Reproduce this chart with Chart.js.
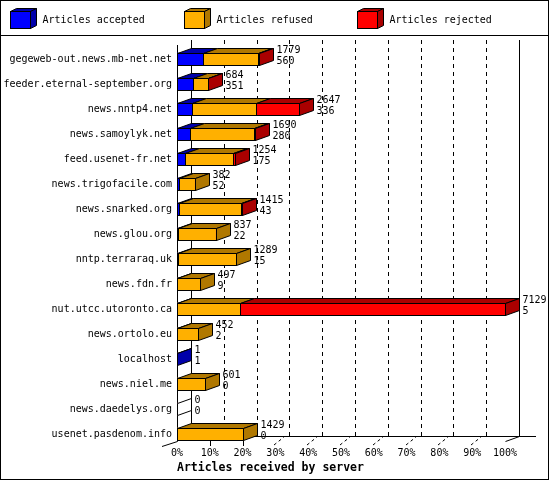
<!DOCTYPE html>
<html>
<head>
<meta charset="utf-8">
<script src="https://cdn.jsdelivr.net/npm/chart.js@4.4.1/dist/chart.umd.min.js"></script>
<style>
  html, body { margin: 0; padding: 0; background: #fff; }
  canvas { display: block; }
</style>
</head>
<body>
<canvas id="chart" width="550" height="480"></canvas>
<script>
// servers, in the order shown top to bottom
const servers = [
  'gegeweb-out.news.mb-net.net', 'feeder.eternal-september.org', 'news.nntp4.net',
  'news.samoylyk.net', 'feed.usenet-fr.net', 'news.trigofacile.com', 'news.snarked.org',
  'news.glou.org', 'nntp.terraraq.uk', 'news.fdn.fr', 'nut.utcc.utoronto.ca',
  'news.ortolo.eu', 'localhost', 'news.niel.me', 'news.daedelys.org', 'usenet.pasdenom.info'
];
// numbers printed next to each bar
const totals   = [1779, 684, 2647, 1690, 1254, 382, 1415, 837, 1289, 497, 7129, 452, 1, 601, 0, 1429];
const accepted = [560, 351, 336, 280, 175, 52, 43, 22, 15, 9, 5, 2, 1, 0, 0, 0];
const refused  = [1207, 318, 1378, 1390, 1049, 330, 1352, 815, 1274, 488, 1360, 450, 0, 601, 0, 1429];
const rejected = [12, 15, 933, 20, 30, 0, 20, 0, 0, 0, 5764, 0, 0, 0, 0, 0];

const tickPercents = [0, 10, 20, 30, 40, 50, 60, 70, 80, 90, 100];
const tickLabels = ['0%', '10%', '20%', '30%', '40%', '50%', '60%', '70%', '80%', '90%', '100%'];

const seriesNames = ['Articles accepted', 'Articles refused', 'Articles rejected'];
const frontColors = ['#0000ff', '#ffb000', '#ff0000'];
const darkColors  = ['#0000aa', '#b07800', '#aa0000'];

const maxTotal = Math.max(...totals);
const MONO = '"DejaVu Sans Mono", "Liberation Mono", monospace';
const DX = 14, DY = 5;

function px(v) { return Math.round(v) + 0.5; }

function poly(ctx, pts, fill) {
  ctx.beginPath();
  ctx.moveTo(pts[0][0], pts[0][1]);
  for (let i = 1; i < pts.length; i++) ctx.lineTo(pts[i][0], pts[i][1]);
  ctx.closePath();
  if (fill) { ctx.fillStyle = fill; ctx.fill(); }
  ctx.stroke();
}

function line(ctx, x1, y1, x2, y2) {
  ctx.beginPath();
  ctx.moveTo(x1, y1);
  ctx.lineTo(x2, y2);
  ctx.stroke();
}

const depth3d = {
  id: 'depth3d',
  beforeDatasetsDraw(chart) {
    const ctx = chart.ctx, xs = chart.scales.x, area = chart.chartArea;
    const floorY = Math.round(area.bottom - 5.5);
    const topY = Math.round(area.top - 6.5);
    const x0 = Math.round(xs.getPixelForValue(0));
    const x100 = Math.round(xs.getPixelForValue(maxTotal));
    ctx.save();
    ctx.strokeStyle = '#000';
    ctx.lineWidth = 1;
    // dashed grid on the back wall
    ctx.setLineDash([4, 4]);
    tickPercents.forEach((p, i) => {
      if (i === 0 || i === tickPercents.length - 1) return;
      const x = px(xs.getPixelForValue(maxTotal * p / 100) + DX);
      line(ctx, x, topY, x, floorY - DY);
    });
    // little ticks under the floor
    ctx.setLineDash([3, 3]);
    tickPercents.forEach((p, i) => {
      const x = Math.round(xs.getPixelForValue(maxTotal * p / 100));
      if (i >= 3 && i <= 9) line(ctx, x - 1, floorY + 4, x + 9, floorY - 4);
    });
    ctx.setLineDash([]);
    tickPercents.forEach((p, i) => {
      const x = px(xs.getPixelForValue(maxTotal * p / 100));
      if (i === 1 || i === 2) line(ctx, x, floorY, x, floorY + 5);
    });
    // walls and floor
    line(ctx, x0 + DX + 0.5, topY, x0 + DX + 0.5, floorY - DY + 0.5);
    line(ctx, x100 + DX + 0.5, topY, x100 + DX + 0.5, floorY - DY + 0.5);
    line(ctx, x0 + 0.5, topY + DY, x0 + 0.5, floorY + 0.5);
    line(ctx, x0 + DX, floorY - DY + 0.5, x100 + DX + 17, floorY - DY + 0.5);
    line(ctx, x0 - 15, floorY + 5.5, x0 + 0.5, floorY + 0.5);
    line(ctx, x100 + 0.5, floorY + 0.5, x100 + DX + 0.5, floorY - DY + 0.5);
    ctx.restore();
  },
  afterDatasetsDraw(chart) {
    const ctx = chart.ctx;
    const metas = chart.data.datasets.map((d, i) => chart.getDatasetMeta(i));
    ctx.save();
    ctx.strokeStyle = '#000';
    ctx.lineWidth = 1;
    servers.forEach((name, row) => {
      let last = -1, end = null, top = 0, bottom = 0, cy = 0;
      metas.forEach((meta, d) => {
        const el = meta.data[row];
        const x1 = px(Math.min(el.base, el.x)), x2 = px(Math.max(el.base, el.x));
        top = px(el.y - el.height / 2); bottom = px(el.y + el.height / 2); cy = el.y;
        if (chart.data.datasets[d].data[row] > 0) {
          last = d;
          end = x2;
          poly(ctx, [[x1, top], [x2, top], [x2 + DX, top - DY], [x1 + DX, top - DY]], darkColors[d]);
          ctx.strokeRect(x1, top, x2 - x1, bottom - top);
        }
      });
      if (last >= 0) {
        poly(ctx, [[end, top], [end + DX, top - DY], [end + DX, bottom - DY], [end, bottom]], darkColors[last]);
      } else {
        end = px(chart.scales.x.getPixelForValue(0));
        poly(ctx, [[end, top], [end + DX, top - DY], [end + DX, bottom - DY], [end, bottom]], '#fff');
      }
      ctx.fillStyle = '#000';
      ctx.font = '10px ' + MONO;
      ctx.textAlign = 'left';
      ctx.textBaseline = 'middle';
      ctx.fillText(String(totals[row]), end + DX + 3, cy - 8.5);
      ctx.fillText(String(accepted[row]), end + DX + 3, cy + 2.5);
    });
    ctx.restore();
  },
  afterDraw(chart) {
    const ctx = chart.ctx;
    ctx.save();
    // frame and legend separator
    ctx.fillStyle = '#000';
    ctx.fillRect(0, 0, 549, 1);
    ctx.fillRect(0, 0, 1, 480);
    ctx.fillRect(548, 0, 1, 480);
    ctx.fillRect(0, 479, 549, 1);
    ctx.fillRect(0, 35, 549, 1);
    // legend with little 3d boxes
    ctx.strokeStyle = '#000';
    ctx.lineWidth = 1;
    seriesNames.forEach((name, i) => {
      const bx = Math.round(10 + i * 173.5) + 0.5, by = 11.5, w = 20, h = 17, dx = 6, dy = 3;
      poly(ctx, [[bx, by], [bx + w, by], [bx + w + dx, by - dy], [bx + dx, by - dy]], darkColors[i]);
      poly(ctx, [[bx + w, by], [bx + w + dx, by - dy], [bx + w + dx, by + h - dy], [bx + w, by + h]], darkColors[i]);
      ctx.fillStyle = frontColors[i];
      ctx.fillRect(bx, by, w, h);
      ctx.strokeRect(bx, by, w, h);
      ctx.fillStyle = '#000';
      ctx.font = '10px ' + MONO;
      ctx.textAlign = 'left';
      ctx.textBaseline = 'middle';
      ctx.fillText(name, bx + 32, 20);
    });
    ctx.restore();
  }
};

new Chart(document.getElementById('chart'), {
  type: 'bar',
  data: {
    labels: servers,
    datasets: [
      { label: seriesNames[0], data: accepted, backgroundColor: frontColors[0] },
      { label: seriesNames[1], data: refused, backgroundColor: frontColors[1] },
      { label: seriesNames[2], data: rejected, backgroundColor: frontColors[2] }
    ]
  },
  options: {
    indexAxis: 'y',
    responsive: false,
    animation: false,
    devicePixelRatio: 1,
    layout: { padding: { top: 46.5, right: 45, bottom: 5, left: 0 } },
    datasets: { bar: { barThickness: 12, borderWidth: 0 } },
    plugins: { legend: { display: false }, tooltip: { enabled: false } },
    scales: {
      x: {
        stacked: true,
        min: 0,
        max: maxTotal,
        grid: { display: false, drawTicks: false },
        border: { display: false },
        afterBuildTicks: s => { s.ticks = tickPercents.map(p => ({ value: maxTotal * p / 100 })); },
        afterFit: s => { s.height = 28.5; },
        ticks: {
          autoSkip: false, maxRotation: 0, padding: 1, color: '#000',
          font: { family: MONO, size: 10 },
          callback: (v, i) => tickLabels[i]
        },
        title: {
          display: true, text: 'Articles received by server', align: 'start', color: '#000',
          font: { family: MONO, size: 11.5, weight: 'bold' },
          padding: { top: 0, bottom: 0 }
        }
      },
      y: {
        stacked: true,
        grid: { display: false, drawTicks: false },
        border: { display: false },
        afterFit: s => { s.width = 177; },
        ticks: { autoSkip: false, padding: 5, color: '#000', font: { family: MONO, size: 10 } }
      }
    }
  },
  plugins: [depth3d]
});
</script>
</body>
</html>
